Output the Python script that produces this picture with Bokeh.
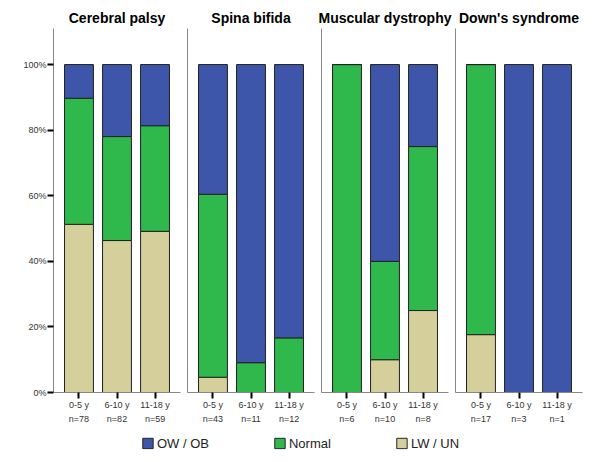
from bokeh.plotting import figure
from bokeh.layouts import column, row
from bokeh.models import (FactorRange, Range1d, FixedTicker, PrintfTickFormatter,
                          Legend, LegendItem, ColumnDataSource)
from bokeh.embed import file_html
from bokeh.resources import INLINE

diseases = ["Cerebral palsy", "Spina bifida", "Muscular dystrophy", "Down's syndrome"]
age_groups = ["0-5 y", "6-10 y", "11-18 y"]

# counts per age group (0-5 y, 6-10 y, 11-18 y)
n_total = [[78, 82, 59], [43, 11, 12], [6, 10, 8], [17, 3, 1]]
lw_un = [[40, 38, 29], [2, 0, 0], [0, 1, 2], [3, 0, 0]]
normal = [[30, 26, 19], [24, 1, 2], [6, 3, 4], [14, 0, 0]]
ow_ob = [[8, 18, 11], [17, 10, 10], [0, 6, 2], [0, 3, 1]]

series = ["LW / UN", "Normal", "OW / OB"]
colors = {"OW / OB": "#3d56aa", "Normal": "#2fb84b", "LW / UN": "#d5cf9b"}
y_ticks = [0, 20, 40, 60, 80, 100]

FONT = "Liberation Sans"
FRAME_W, FRAME_H = 127, 364

panels = []
for i, d in enumerate(diseases):
    labels = [f"{a}\nn={n}" for a, n in zip(age_groups, n_total[i])]
    pct = lambda arr: [c / n * 100 for c, n in zip(arr[i], n_total[i])]
    src = ColumnDataSource(dict(x=labels, lw=pct(lw_un), nm=pct(normal), ow=pct(ow_ob)))
    p = figure(x_range=FactorRange(factors=labels, range_padding=0.17,
                                   range_padding_units="absolute"),
               y_range=Range1d(0, 111), frame_width=FRAME_W, frame_height=FRAME_H,
               output_backend="svg", toolbar_location=None,
               min_border_left=53 if i == 0 else 3, min_border_right=4,
               min_border_top=28, min_border_bottom=0)
    p.vbar_stack(["lw", "nm", "ow"], x="x", width=0.76, source=src,
                 fill_color=[colors[s] for s in series], line_color="#222222", line_width=1)
    p.title.text = d
    p.title.align = "center"
    p.title.text_font = FONT
    p.title.text_font_size = "14px"
    p.title.text_font_style = "bold"
    p.title.text_color = "#000000"
    p.title.standoff = 5
    p.outline_line_color = None
    p.xgrid.visible = False
    p.ygrid.visible = False

    xa = p.xaxis[0]
    xa.axis_line_color = "#888888"
    xa.major_tick_line_color = "#000000"
    xa.major_tick_line_width = 2
    xa.major_tick_out = 6
    xa.major_tick_in = 0
    xa.major_label_standoff = 1
    xa.major_label_text_font = FONT
    xa.major_label_text_font_size = "9px"
    xa.major_label_text_color = "#333333"
    xa.major_label_text_line_height = 1.4

    ya = p.yaxis[0]
    ya.axis_line_color = "#888888"
    ya.minor_tick_line_color = None
    if i == 0:
        ya.ticker = FixedTicker(ticks=y_ticks)
        ya.formatter = PrintfTickFormatter(format="%d%%")
        ya.major_tick_line_color = "#000000"
        ya.major_tick_line_width = 2
        ya.major_tick_out = 6
        ya.major_tick_in = 0
        ya.major_label_standoff = 1
        ya.major_label_text_font = FONT
        ya.major_label_text_font_size = "9px"
        ya.major_label_text_color = "#333333"
    else:
        ya.ticker = FixedTicker(ticks=[])
        ya.major_tick_line_color = None
        ya.major_tick_out = 0
        ya.major_tick_in = 0
        ya.major_label_standoff = 0
    panels.append(p)

total_w = 53 + FRAME_W + 4 + 3 * (3 + FRAME_W + 4)
lg = figure(width=total_w, height=34, x_range=Range1d(0, 1), y_range=Range1d(0, 1),
            output_backend="svg", toolbar_location=None,
            min_border_left=14, min_border_right=0, min_border_top=0, min_border_bottom=0)
lg.axis.visible = False
lg.grid.visible = False
lg.outline_line_color = None
items = []
for s in ["OW / OB", "Normal", "LW / UN"]:
    r = lg.vbar(x=[float("nan")], top=[float("nan")], width=0.1,
                fill_color=colors[s], line_color="#222222")
    items.append(LegendItem(label=s, renderers=[r]))
leg = Legend(items=items, orientation="horizontal", location="center",
             glyph_width=13, glyph_height=13, label_standoff=3, spacing=64,
             label_text_font=FONT, label_text_font_size="13px", label_text_color="#222222",
             border_line_color=None, background_fill_alpha=0, padding=0, margin=0)
lg.add_layout(leg, "center")

layout = column(row(*panels), lg)
open("out.html", "w").write(file_html(layout, INLINE))
